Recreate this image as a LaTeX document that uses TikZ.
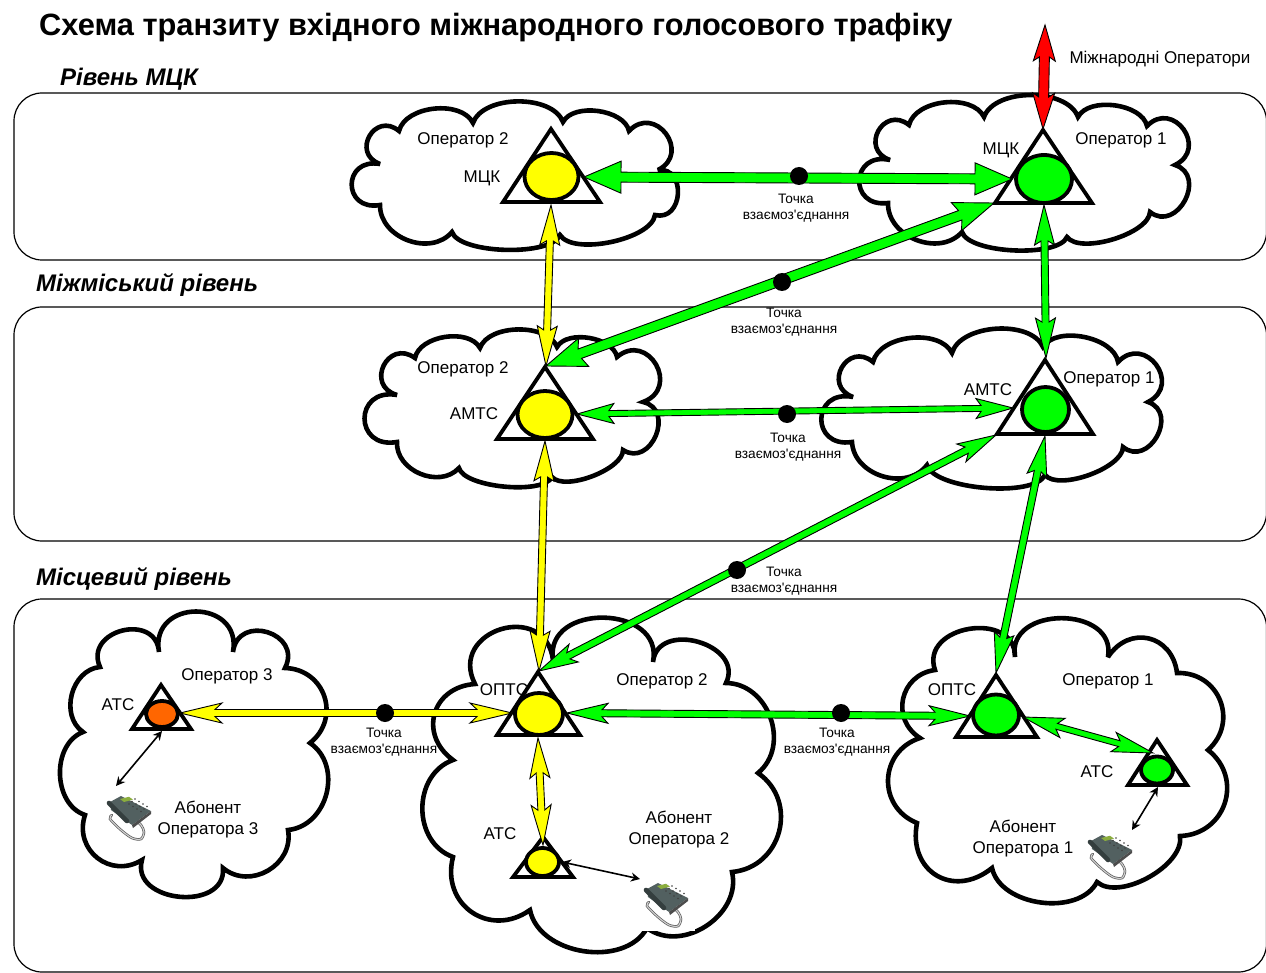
\documentclass[tikz,border=0pt]{standalone}
\usepackage{fontspec}
\usetikzlibrary{calc,shapes.geometric,arrows.meta}
\newfontfamily\labfont{Liberation Sans}
\definecolor{ygreen}{RGB}{0,255,0}
\definecolor{yyellow}{RGB}{255,255,0}
\definecolor{oorange}{RGB}{255,102,0}
\definecolor{rred}{RGB}{255,0,0}
\definecolor{phonebody}{RGB}{82,96,96}
\definecolor{phonedark}{RGB}{52,62,62}
\tikzset{
  x=1pt,y=-1pt,
  level/.style={draw=black,line width=1.2pt,rounded corners=28pt},
  cloud/.style={draw=black,fill=white,line width=4.6pt,line join=miter,miter limit=3},
  lobe/.style={bend left=70,looseness=#1},
  rlobe/.style={bend left=100,looseness=#1},
  tri/.style={draw=black,fill=white,line width=3.8pt,line join=miter},
  hub/.style={ellipse,draw=black,line width=3.8pt,inner sep=0pt,outer sep=0pt},
  lab/.style={font=\labfont\fontsize{17}{20.5}\selectfont,align=center,inner sep=0pt,text=black},
  pt/.style={font=\labfont\fontsize{13.7}{16}\selectfont,align=center,inner sep=0pt,text=black},
  heading/.style={font=\labfont\bfseries\fontsize{30.8}{36}\selectfont,anchor=west,inner sep=0pt},
  levelname/.style={font=\labfont\bfseries\itshape\fontsize{24}{28}\selectfont,anchor=west,inner sep=0pt},
  dotnode/.style={circle,fill=black,minimum size=18pt,inner sep=0pt},
  block/.style={draw=black,line width=0.9pt,line join=miter,miter limit=12},
  fine/.style={draw=black,line width=1.6pt,{Stealth[length=9pt,width=9pt]}-{Stealth[length=9pt,width=9pt]}},
  phone/.pic={
    \path[draw=black!65,line width=2.5pt,line cap=round] plot[smooth] coordinates {(5,19) (3,23) (14,34) (25,42) (34,43) (37,36) (34,29) (27,23)};
    \path[draw=black!18,line width=1.1pt,line cap=round] plot[smooth] coordinates {(5,19) (3,23) (14,34) (25,42) (34,43) (37,36) (34,29) (27,23)};
    \fill[phonebody] (3,6) -- (14,0) -- (44,15) -- (25,29) -- (4,14) -- cycle;
    \fill[black!70] (25,29) -- (44,15) -- (44,18) -- (26,32) -- cycle;
    \draw[phonedark,line width=4.6pt,line cap=round] (2,7) -- (20,25);
    \fill[yellow!60!green!75!black] (13,3) -- (22,0.8) -- (26,3.6) -- (17,6) -- cycle;
    \foreach \i in {0,1,2,3} \foreach \j in {0,1,2}
      \fill[black!75] (22+\i*4+\j*3,8+\i*2.5-\j*2.5) circle (0.9pt);
  }
}
% double-headed block arrow: from, to, colour, half shaft, neck distance, head length, half head
\newcommand\barrow[7]{%
  \draw[block,fill=#3] (#1)
    -- ($(#1)!#6pt!(#2)!#7pt!90:(#2)$) -- ($(#1)!#5pt!(#2)!#4pt!90:(#2)$)
    -- ($(#2)!#5pt!(#1)!#4pt!-90:(#1)$) -- ($(#2)!#6pt!(#1)!#7pt!-90:(#1)$)
    -- (#2)
    -- ($(#2)!#6pt!(#1)!#7pt!90:(#1)$) -- ($(#2)!#5pt!(#1)!#4pt!90:(#1)$)
    -- ($(#1)!#5pt!(#2)!#4pt!-90:(#2)$) -- ($(#1)!#6pt!(#2)!#7pt!-90:(#2)$)
    -- cycle;}
\newcommand\station[3]{%
  \draw[tri] #2;
  \node[hub,fill=#1] #3;}
\begin{document}
\begin{tikzpicture}
\useasboundingbox (0,0) rectangle (1266,973);
% levels
\draw[level] (14,93) rectangle (1266.5,260);
\draw[level] (14,307) rectangle (1266.5,541);
\draw[level] (14,599) rectangle (1266.5,972);
% clouds
\draw[cloud] (380,164) to[rlobe=2.1] (399,131) to[lobe=.9] (473,123) to[lobe=.85] (563,122) to[lobe=.85] (629,131) to[rlobe=2] (658,170) to[rlobe=1.65] (655,215) to[lobe=.65] (560,235) to[lobe=.55] (452,232) to[lobe=1.1] (380,205) to[rlobe=2.4] (380,164) -- cycle;
\draw[cloud] (890,160) to[rlobe=2.1] (909,125) to[lobe=.9] (984,117) to[lobe=.85] (1078,117) to[lobe=.85] (1147,126) to[rlobe=2] (1175,165) to[rlobe=1.65] (1150,212) to[lobe=.65] (1067,237) to[lobe=.55] (962,232) to[lobe=1.1] (888,203) to[rlobe=2.4] (890,160) -- cycle;
\draw[cloud] (397,395) to[rlobe=2.1] (415,358) to[lobe=.9] (480,348) to[lobe=.85] (557,347) to[lobe=.85] (617,357) to[rlobe=2] (643,402) to[rlobe=1.65] (623,450) to[lobe=.65] (552,477) to[lobe=.55] (459,468) to[lobe=1.1] (397,442) to[rlobe=2.4] (397,395) -- cycle;
\draw[cloud] (853,397) to[rlobe=2.1] (873,362) to[lobe=.9] (952,353) to[lobe=.85] (1043,347) to[lobe=.85] (1118,362) to[rlobe=2] (1148,402) to[rlobe=1.65] (1123,447) to[lobe=.65] (1045,475) to[lobe=.55] (927,465) to[lobe=1.1] (852,442) to[rlobe=2.4] (853,397) -- cycle;
\draw[cloud] (159,652) to[rlobe=1.9] (233,652) to[rlobe=1.85] (285,668) to[lobe=1.3] (310,743) to[lobe=1.15] (288,830) to[lobe=1.2] (223,868) to[rlobe=1.4] (142,860) to[lobe=1.3] (85,815) to[lobe=1.05] (83,732) to[lobe=1.1] (100,667) to[rlobe=1.7] (159,652) -- cycle;
\draw[cloud] (475,684) to[rlobe=1.9] (553,660) to[rlobe=1.5] (653,662) to[rlobe=1.45] (726,683) to[lobe=1.15] (758,773) to[lobe=1.25] (732,872) to[lobe=1.1] (647,928) to[lobe=1] (530,910) to[lobe=1.35] (453,857) to[lobe=1.15] (453,760) to[lobe=1.4] (475,684) -- cycle;
\draw[cloud] (935,670) to[rlobe=1.5] (1015,657) to[rlobe=1.45] (1108,657) to[lobe=1.4] (1177,673) to[lobe=1.3] (1208,750) to[lobe=1.3] (1180,836) to[lobe=.8] (1097,882) to[lobe=.95] (992,868) to[lobe=1.45] (917,823) to[lobe=1.3] (920,738) to[lobe=1.3] (935,670) -- cycle;
% stations
\station{yyellow}{(551,129) -- (600,202) -- (503,202) -- cycle}{(mcktwo) at (551.5,176.5) [minimum width=54pt,minimum height=47pt] {}}
\station{ygreen}{(1043,130) -- (1092,203) -- (995,203) -- cycle}{(mckone) at (1044,179) [minimum width=56pt,minimum height=48pt] {}}
\station{yyellow}{(545,367) -- (593,439) -- (497,439) -- cycle}{(amtstwo) at (545,414.5) [minimum width=55pt,minimum height=47pt] {}}
\station{ygreen}{(1045,360) -- (1093,434) -- (997,434) -- cycle}{(amtsone) at (1045.5,409.5) [minimum width=47pt,minimum height=45pt] {}}
\station{yyellow}{(538,672) -- (580,735) -- (497,735) -- cycle}{(optstwo) at (539,714) [minimum width=48pt,minimum height=42pt] {}}
\station{ygreen}{(996,675) -- (1037,737) -- (956,737) -- cycle}{(optsone) at (996,715) [minimum width=46pt,minimum height=41pt] {}}
\station{oorange}{(161,685) -- (191,729) -- (132,729) -- cycle}{(atsthree) at (162,714) [minimum width=32pt,minimum height=26pt] {}}
\station{yyellow}{(543,837) -- (573,877) -- (513,877) -- cycle}{(atstwo) at (542.5,862) [minimum width=33pt,minimum height=28pt] {}}
\station{ygreen}{(1157,740) -- (1187,785) -- (1128,785) -- cycle}{(atsone) at (1157,770) [minimum width=32pt,minimum height=27pt] {}}
% connector ends
\coordinate (mcktwoE) at (584,177);
\coordinate (mcktwoS) at (551,205);
\coordinate (mckoneW) at (1012,179);
\coordinate (mckoneL) at (994,203);
\coordinate (mckoneT) at (1043,129);
\coordinate (mckoneS) at (1044,205);
\coordinate (intl) at (1045,25);
\coordinate (amtstwoT) at (546,366);
\coordinate (amtstwoE) at (577,414);
\coordinate (amtstwoS) at (545,441);
\coordinate (amtsoneT) at (1046,358);
\coordinate (amtsoneW) at (1013,408);
\coordinate (amtsoneL) at (996,435);
\coordinate (amtsoneS) at (1045,436);
\coordinate (optstwoT) at (539,671);
\coordinate (optstwoW) at (512,713);
\coordinate (optstwoE) at (567,713);
\coordinate (optstwoS) at (538,738);
\coordinate (optsoneT) at (996,673);
\coordinate (optsoneW) at (970,716);
\coordinate (optsoneE) at (1023,717);
\coordinate (atsthreeE) at (180,713);
\coordinate (atstwoT) at (543,845);
\coordinate (atsoneW) at (1153,753);
\coordinate (phonethree) at (116,786);
\coordinate (phonetwo) at (640,879);
\coordinate (phoneone) at (1132,830);
\coordinate (atsthreeS) at (162,731);
\coordinate (atstwoE) at (562,862);
\coordinate (atsoneS) at (1158,787);
% block arrows
\barrow{intl}{mckoneT}{rred}{5}{32}{36}{11}
\barrow{mcktwoE}{mckoneW}{ygreen}{5}{37}{37}{16}
\barrow{mckoneL}{amtstwoT}{ygreen}{5}{36}{40}{15}
\barrow{mcktwoS}{amtstwoT}{yyellow}{3.5}{36}{40}{10}
\barrow{mckoneS}{amtsoneT}{ygreen}{3.5}{36}{40}{10}
\barrow{amtstwoE}{amtsoneW}{ygreen}{3}{32}{37}{10}
\barrow{amtstwoS}{optstwoT}{yyellow}{3.5}{36}{40}{10}
\barrow{amtsoneL}{optstwoT}{ygreen}{3.5}{33}{39}{10}
\barrow{amtsoneS}{optsoneT}{ygreen}{3.5}{36}{40}{10}
\barrow{atsthreeE}{optstwoW}{yyellow}{3.5}{35}{42}{10}
\barrow{optstwoE}{optsoneW}{ygreen}{3.5}{35}{41}{10}
\barrow{optstwoS}{atstwoT}{yyellow}{3.5}{35}{40}{10}
\barrow{optsoneE}{atsoneW}{ygreen}{3}{35}{41}{10}
% phones
\fill[white] (638,875) rectangle (695,931);
\pic (phthree) at (107,796) {phone};
\pic (phtwo) at (644,883) {phone};
\pic (phone) at (1088,835) {phone};
\draw[fine] (atsthreeS) -- (phonethree);
\draw[fine] (atstwoE) -- (phonetwo);
\draw[fine] (atsoneS) -- (phoneone);
% interconnection dots
\node[dotnode] (d1) at (799,176) {};
\node[dotnode] (d2) at (782,282) {};
\node[dotnode] (d3) at (787,414) {};
\node[dotnode] (d4) at (737,570) {};
\node[dotnode] (d5) at (385,713) {};
\node[dotnode] (d6) at (841,713) {};
% texts
\node[heading] (title) at (39,27.5) {Схема транзиту вхідного міжнародного голосового трафіку};
\node[levelname] (n1) at (60,79.5) {Рівень МЦК};
\node[levelname] (n2) at (36,285.5) {Міжміський рівень};
\node[levelname] (n3) at (36,579.5) {Місцевий рівень};
\node[lab] (t0) at (1160,59.5) {Міжнародні Оператори};
\node[lab] (t1) at (463,140.5) {Оператор 2};
\node[lab] (t2) at (482,178.5) {МЦК};
\node[lab] (t3) at (1001,150.5) {МЦК};
\node[lab] (t4) at (1121,140.5) {Оператор 1};
\node[lab] (t5) at (463,369.5) {Оператор 2};
\node[lab] (t6) at (474,413.5) {АМТС};
\node[lab] (t7) at (988,389.5) {АМТС};
\node[lab] (t8) at (1109,379.5) {Оператор 1};
\node[lab] (t9) at (118,704.5) {АТС};
\node[lab] (t10) at (227,676.5) {Оператор 3};
\node[lab] (t11) at (208,819.5) {Абонент\\Оператора 3};
\node[lab] (t12) at (504,689.5) {ОПТС};
\node[lab] (t13) at (662,681.5) {Оператор 2};
\node[lab] (t14) at (500,833.5) {АТС};
\node[lab] (t15) at (679,829.5) {Абонент\\Оператора 2};
\node[lab] (t16) at (952,689.5) {ОПТС};
\node[lab] (t17) at (1108,681.5) {Оператор 1};
\node[lab] (t18) at (1097,771.5) {АТС};
\node[lab] (t19) at (1023,838.5) {Абонент\\Оператора 1};
\node[pt] (p1) at (796,208) {Точка\\взаємоз'єднання};
\node[pt] (p2) at (784,322) {Точка\\взаємоз'єднання};
\node[pt] (p3) at (788,447) {Точка\\взаємоз'єднання};
\node[pt] (p4) at (784,581) {Точка\\взаємоз'єднання};
\node[pt] (p5) at (384,742) {Точка\\взаємоз'єднання};
\node[pt] (p6) at (837,742) {Точка\\взаємоз'єднання};
\end{tikzpicture}
\end{document}
